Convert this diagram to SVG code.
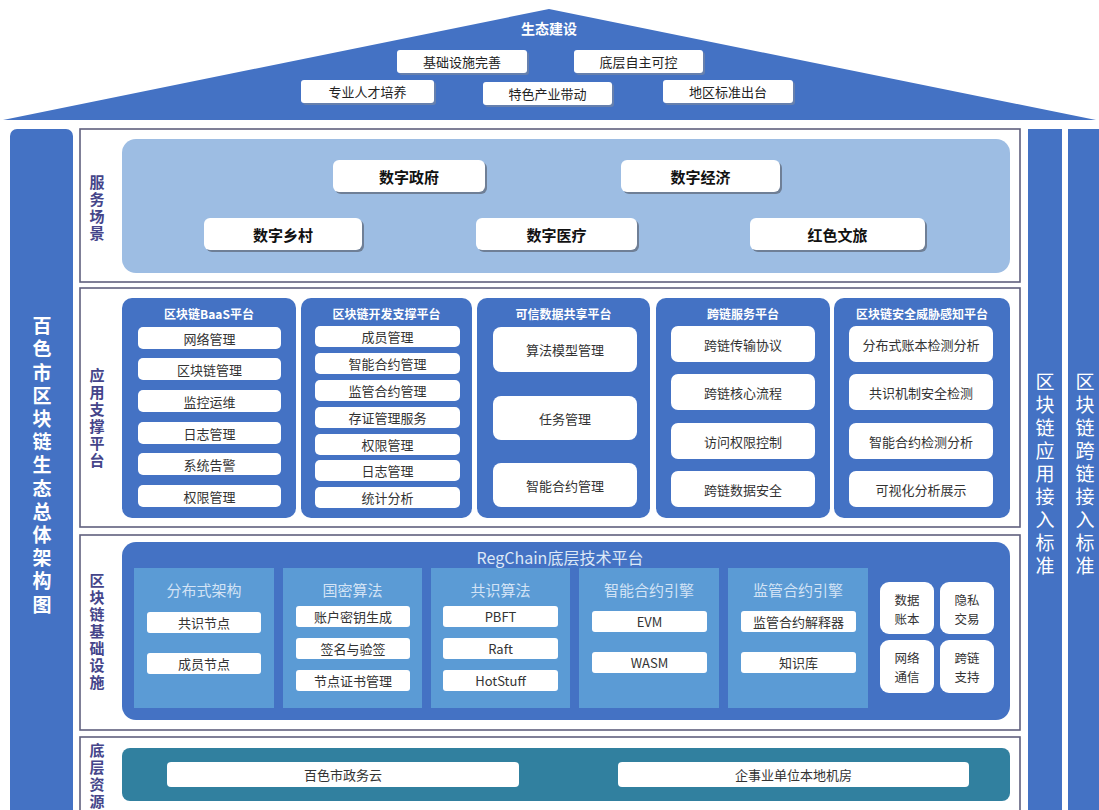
<svg xmlns="http://www.w3.org/2000/svg" width="1099" height="810" viewBox="0 0 1099 810">
<style>
text{font-family:"Noto Sans CJK SC","Noto Sans",sans-serif;text-anchor:middle;dominant-baseline:central}
.vt{writing-mode:vertical-rl;text-anchor:start}
.sec{fill:#ffffff;stroke:#60607e;stroke-width:1.6}
.lab{fill:#45458a;font-size:15px;font-weight:bold;letter-spacing:2px}
.side{fill:#4472c4}
.wb{fill:#ffffff}
.shd{fill:#7d8aa0;opacity:0.6}
.roofT{font-size:13px;fill:#222}
.svcT{font-size:15px;font-weight:bold;fill:#111}
.col{fill:#4472c4}
.colT{font-size:12px;font-weight:bold;fill:#ffffff}
.it{font-size:13px;fill:#333}
.it2{font-size:12.5px;fill:#333}
.sub{fill:#5b9bd5}
.subT{font-size:15px;fill:#d3e3f5}
</style>
<rect width="1099" height="810" fill="#ffffff"/>

<g id="roof">
<polygon points="549,9 1096,120 3,120" fill="#4472c4"/>
<text x="549" y="28" style="font-size:14px;font-weight:bold;fill:#ffffff">生态建设</text>
<g id="r1"><rect x="399" y="52" width="130" height="23" rx="3" class="shd"/><rect x="397" y="50" width="130" height="23" rx="3" class="wb"/><text x="462" y="61.5" class="roofT">基础设施完善</text></g>
<g id="r2"><rect x="576" y="52" width="129" height="23" rx="3" class="shd"/><rect x="574" y="50" width="129" height="23" rx="3" class="wb"/><text x="638.5" y="61.5" class="roofT">底层自主可控</text></g>
<g id="r3"><rect x="303" y="82" width="133" height="23" rx="3" class="shd"/><rect x="301" y="80" width="133" height="23" rx="3" class="wb"/><text x="367.5" y="91.5" class="roofT">专业人才培养</text></g>
<g id="r4"><rect x="485" y="84" width="129" height="23" rx="3" class="shd"/><rect x="483" y="82" width="129" height="23" rx="3" class="wb"/><text x="547.5" y="93.5" class="roofT">特色产业带动</text></g>
<g id="r5"><rect x="665" y="82" width="130" height="23" rx="3" class="shd"/><rect x="663" y="80" width="130" height="23" rx="3" class="wb"/><text x="728" y="91.5" class="roofT">地区标准出台</text></g>
</g>

<g id="left-title">
<rect x="10" y="129" width="63" height="690" rx="7" class="side"/>
<text x="42" y="316.5" class="vt" style="font-size:19px;font-weight:bold;fill:#ffffff;letter-spacing:4.2px">百色市区块链生态总体架构图</text>
</g>

<g id="right-std1">
<rect x="1028" y="129" width="34" height="690" class="side"/>
<text x="1045" y="372.5" class="vt" style="font-size:19px;fill:#ffffff;letter-spacing:4px">区块链应用接入标准</text>
</g>
<g id="right-std2">
<rect x="1068" y="129" width="34" height="690" class="side"/>
<text x="1085" y="372.5" class="vt" style="font-size:19px;fill:#ffffff;letter-spacing:4px">区块链跨链接入标准</text>
</g>

<g id="service">
<rect x="80" y="129" width="940" height="153" class="sec"/>
<text x="97" y="174.5" class="lab vt">服务场景</text>
<rect x="122" y="139" width="888" height="134" rx="14" fill="#9dbde3"/>
<g id="s1"><rect x="335" y="162" width="152" height="32" rx="6" fill="#6f7f96"/><rect x="333" y="160" width="152" height="32" rx="6" class="wb"/><text x="409" y="176" class="svcT">数字政府</text></g>
<g id="s2"><rect x="623" y="162" width="159" height="32" rx="6" fill="#6f7f96"/><rect x="621" y="160" width="159" height="32" rx="6" class="wb"/><text x="700.5" y="176" class="svcT">数字经济</text></g>
<g id="s3"><rect x="206" y="220" width="158" height="32" rx="6" fill="#6f7f96"/><rect x="204" y="218" width="158" height="32" rx="6" class="wb"/><text x="283" y="234" class="svcT">数字乡村</text></g>
<g id="s4"><rect x="478" y="220" width="161" height="32" rx="6" fill="#6f7f96"/><rect x="476" y="218" width="161" height="32" rx="6" class="wb"/><text x="556.5" y="234" class="svcT">数字医疗</text></g>
<g id="s5"><rect x="752" y="220" width="175" height="32" rx="6" fill="#6f7f96"/><rect x="750" y="218" width="175" height="32" rx="6" class="wb"/><text x="837.5" y="234" class="svcT">红色文旅</text></g>
</g>

<g id="app">
<rect x="80" y="288" width="940" height="239" class="sec"/>
<text x="97" y="367.5" class="lab vt">应用支撑平台</text>

<g id="baas">
<rect x="122" y="298" width="174" height="220" rx="10" class="col"/>
<text x="209" y="313" class="colT">区块链BaaS平台</text>
<rect x="138" y="327" width="143" height="22" rx="5" class="wb"/><text x="209.5" y="338" class="it">网络管理</text>
<rect x="138" y="358" width="143" height="22" rx="5" class="wb"/><text x="209.5" y="369" class="it">区块链管理</text>
<rect x="138" y="390" width="143" height="22" rx="5" class="wb"/><text x="209.5" y="401" class="it">监控运维</text>
<rect x="138" y="422" width="143" height="22" rx="5" class="wb"/><text x="209.5" y="433" class="it">日志管理</text>
<rect x="138" y="453" width="143" height="22" rx="5" class="wb"/><text x="209.5" y="464" class="it">系统告警</text>
<rect x="138" y="485" width="143" height="22" rx="5" class="wb"/><text x="209.5" y="496" class="it">权限管理</text>
</g>

<g id="devsup">
<rect x="301" y="298" width="171" height="220" rx="10" class="col"/>
<text x="386.5" y="313" class="colT">区块链开发支撑平台</text>
<rect x="315" y="326" width="145" height="21" rx="5" class="wb"/><text x="387.5" y="336.5" class="it">成员管理</text>
<rect x="315" y="353" width="145" height="21" rx="5" class="wb"/><text x="387.5" y="363.5" class="it">智能合约管理</text>
<rect x="315" y="380" width="145" height="21" rx="5" class="wb"/><text x="387.5" y="390.5" class="it">监管合约管理</text>
<rect x="315" y="407" width="145" height="21" rx="5" class="wb"/><text x="387.5" y="417.5" class="it">存证管理服务</text>
<rect x="315" y="434" width="145" height="21" rx="5" class="wb"/><text x="387.5" y="444.5" class="it">权限管理</text>
<rect x="315" y="460" width="145" height="21" rx="5" class="wb"/><text x="387.5" y="470.5" class="it">日志管理</text>
<rect x="315" y="487" width="145" height="21" rx="5" class="wb"/><text x="387.5" y="497.5" class="it">统计分析</text>
</g>

<g id="datashare">
<rect x="477" y="298" width="173" height="220" rx="10" class="col"/>
<text x="563.5" y="313" class="colT">可信数据共享平台</text>
<rect x="493" y="327" width="144" height="45" rx="8" class="wb"/><text x="565" y="349.5" class="it">算法模型管理</text>
<rect x="493" y="396" width="144" height="44" rx="8" class="wb"/><text x="565" y="418" class="it">任务管理</text>
<rect x="493" y="463" width="144" height="44" rx="8" class="wb"/><text x="565" y="485" class="it">智能合约管理</text>
</g>

<g id="crosschain">
<rect x="656" y="298" width="174" height="220" rx="10" class="col"/>
<text x="743" y="313" class="colT">跨链服务平台</text>
<rect x="671" y="326" width="144" height="36" rx="7" class="wb"/><text x="743" y="344" class="it">跨链传输协议</text>
<rect x="671" y="374" width="144" height="36" rx="7" class="wb"/><text x="743" y="392" class="it">跨链核心流程</text>
<rect x="671" y="423" width="144" height="36" rx="7" class="wb"/><text x="743" y="441" class="it">访问权限控制</text>
<rect x="671" y="471" width="144" height="36" rx="7" class="wb"/><text x="743" y="489" class="it">跨链数据安全</text>
</g>

<g id="security">
<rect x="834" y="298" width="176" height="220" rx="10" class="col"/>
<text x="922" y="313" class="colT">区块链安全威胁感知平台</text>
<rect x="849" y="326" width="144" height="36" rx="7" class="wb"/><text x="921" y="344" class="it">分布式账本检测分析</text>
<rect x="849" y="374" width="144" height="36" rx="7" class="wb"/><text x="921" y="392" class="it">共识机制安全检测</text>
<rect x="849" y="423" width="144" height="36" rx="7" class="wb"/><text x="921" y="441" class="it">智能合约检测分析</text>
<rect x="849" y="471" width="144" height="36" rx="7" class="wb"/><text x="921" y="489" class="it">可视化分析展示</text>
</g>
</g>

<g id="infra">
<rect x="80" y="535" width="940" height="195" class="sec"/>
<text x="97" y="572.5" class="lab vt">区块链基础设施</text>
<rect x="122" y="542" width="888" height="178" rx="14" fill="#4472c4"/>
<text x="560" y="557" style="font-size:16px;fill:#dde8f6">RegChain底层技术平台</text>

<g id="distarch">
<rect x="134" y="568" width="140" height="140" class="sub"/>
<text x="204" y="589" class="subT">分布式架构</text>
<rect x="147" y="612" width="114" height="21" rx="3" class="wb"/><text x="204" y="622.5" class="it">共识节点</text>
<rect x="147" y="653" width="114" height="21" rx="3" class="wb"/><text x="204" y="663.5" class="it">成员节点</text>
</g>
<g id="gm">
<rect x="283" y="568" width="139" height="140" class="sub"/>
<text x="352.5" y="589" class="subT">国密算法</text>
<rect x="296" y="606" width="114" height="21" rx="3" class="wb"/><text x="353" y="616.5" class="it">账户密钥生成</text>
<rect x="296" y="638" width="114" height="21" rx="3" class="wb"/><text x="353" y="648.5" class="it">签名与验签</text>
<rect x="296" y="670" width="114" height="21" rx="3" class="wb"/><text x="353" y="680.5" class="it">节点证书管理</text>
</g>
<g id="consensus">
<rect x="431" y="568" width="139" height="140" class="sub"/>
<text x="500.5" y="589" class="subT">共识算法</text>
<rect x="443" y="606" width="115" height="21" rx="3" class="wb"/><text x="500.5" y="616.5" class="it">PBFT</text>
<rect x="443" y="638" width="115" height="21" rx="3" class="wb"/><text x="500.5" y="648.5" class="it">Raft</text>
<rect x="443" y="670" width="115" height="21" rx="3" class="wb"/><text x="500.5" y="680.5" class="it">HotStuff</text>
</g>
<g id="sce">
<rect x="579" y="568" width="140" height="140" class="sub"/>
<text x="649" y="589" class="subT">智能合约引擎</text>
<rect x="592" y="611" width="115" height="21" rx="3" class="wb"/><text x="649.5" y="621.5" class="it">EVM</text>
<rect x="592" y="652" width="115" height="21" rx="3" class="wb"/><text x="649.5" y="662.5" class="it">WASM</text>
</g>
<g id="rce">
<rect x="728" y="568" width="140" height="140" class="sub"/>
<text x="798" y="589" class="subT">监管合约引擎</text>
<rect x="741" y="611" width="115" height="21" rx="3" class="wb"/><text x="798.5" y="621.5" class="it">监管合约解释器</text>
<rect x="741" y="652" width="115" height="21" rx="3" class="wb"/><text x="798.5" y="662.5" class="it">知识库</text>
</g>
<g id="b1"><rect x="880" y="582" width="54" height="52" rx="9" class="wb"/><text class="it2"><tspan x="907" y="598.5">数据</tspan><tspan x="907" y="617.5">账本</tspan></text></g>
<g id="b2"><rect x="940" y="582" width="54" height="52" rx="9" class="wb"/><text class="it2"><tspan x="967" y="598.5">隐私</tspan><tspan x="967" y="617.5">交易</tspan></text></g>
<g id="b3"><rect x="880" y="640" width="54" height="53" rx="9" class="wb"/><text class="it2"><tspan x="907" y="657">网络</tspan><tspan x="907" y="676">通信</tspan></text></g>
<g id="b4"><rect x="940" y="640" width="54" height="53" rx="9" class="wb"/><text class="it2"><tspan x="967" y="657">跨链</tspan><tspan x="967" y="676">支持</tspan></text></g>
</g>

<g id="resource">
<rect x="80" y="737" width="940" height="80" class="sec"/>
<text x="97" y="742.5" class="lab vt">底层资源</text>
<rect x="122" y="748" width="888" height="53" rx="8" fill="#31809f"/>
<rect x="167" y="762" width="352" height="25" rx="4" class="wb"/><text x="343" y="774.5" class="it">百色市政务云</text>
<rect x="618" y="762" width="351" height="25" rx="4" class="wb"/><text x="793.5" y="774.5" class="it">企事业单位本地机房</text>
</g>
</svg>
